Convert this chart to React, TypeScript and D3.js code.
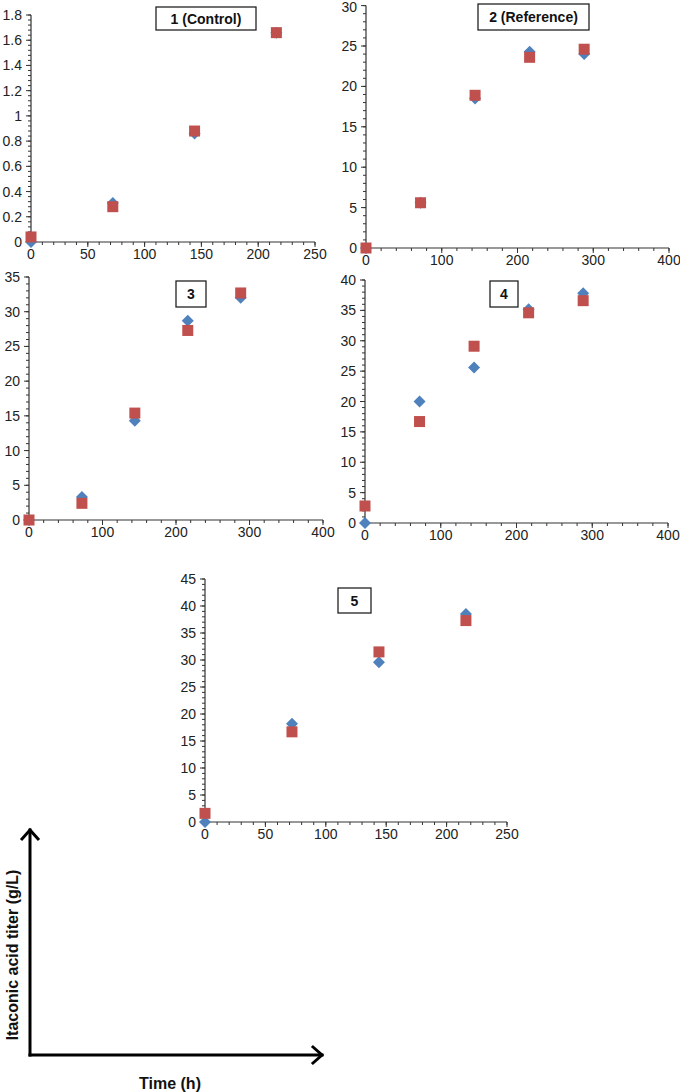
import React from "react";
import * as d3 from "d3";

// ---------- DATA ----------
const timeA = [0, 72, 144, 216];
const timeB = [0, 72, 144, 216, 288];

const p1Blue = [0, 0.31, 0.86, 1.66];
const p1Red = [0.04, 0.28, 0.88, 1.66];

const p2Blue = [0, 5.6, 18.5, 24.3, 24.0];
const p2Red = [0, 5.6, 18.9, 23.6, 24.6];

const p3Blue = [0, 3.3, 14.3, 28.7, 32.0];
const p3Red = [0, 2.4, 15.4, 27.3, 32.7];

const p4Blue = [0, 20.0, 25.6, 35.2, 37.8];
const p4Red = [2.8, 16.7, 29.1, 34.6, 36.6];

const p5Blue = [0, 18.2, 29.6, 38.5];
const p5Red = [1.6, 16.7, 31.5, 37.3];

const panelTitles = ["1 (Control)", "2 (Reference)", "3", "4", "5"];

const xTicks250 = [0, 50, 100, 150, 200, 250];
const xTicks400 = [0, 100, 200, 300, 400];
const yTicks1 = [0, 0.2, 0.4, 0.6, 0.8, 1, 1.2, 1.4, 1.6, 1.8];
const yTicks2 = [0, 5, 10, 15, 20, 25, 30];
const yTicks3 = [0, 5, 10, 15, 20, 25, 30, 35];
const yTicks4 = [0, 5, 10, 15, 20, 25, 30, 35, 40];
const yTicks5 = [0, 5, 10, 15, 20, 25, 30, 35, 40, 45];

const yAxisTitle = "Itaconic acid titer (g/L)";
const xAxisTitle = "Time (h)";

// ---------- LAYOUT / STYLE ----------
const BLUE = "#4F81BD";
const RED = "#C0504D";
const AXIS = "#333";
const FONT = "'Liberation Sans', Arial, Helvetica, sans-serif";

type Panel = {
  time: number[];
  blue: number[];
  red: number[];
  title: string;
  xTicks: number[];
  xMinor: number;
  yTicks: number[];
  yMinor: number;
  x0: number; x1: number; yTop: number; yBot: number;
  box: { x: number; y: number; w: number; h: number };
};

const panels: Panel[] = [
  { time: timeA, blue: p1Blue, red: p1Red, title: panelTitles[0], xTicks: xTicks250, xMinor: 10, yTicks: yTicks1, yMinor: 0.04,
    x0: 31, x1: 315, yTop: 15, yBot: 242, box: { x: 156, y: 7, w: 100, h: 23 } },
  { time: timeB, blue: p2Blue, red: p2Red, title: panelTitles[1], xTicks: xTicks400, xMinor: 20, yTicks: yTicks2, yMinor: 1,
    x0: 366, x1: 669, yTop: 5.6, yBot: 248, box: { x: 478, y: 4, w: 111, h: 26 } },
  { time: timeB, blue: p3Blue, red: p3Red, title: panelTitles[2], xTicks: xTicks400, xMinor: 20, yTicks: yTicks3, yMinor: 1,
    x0: 29, x1: 323, yTop: 277, yBot: 520, box: { x: 176, y: 281, w: 30, h: 26 } },
  { time: timeB, blue: p4Blue, red: p4Red, title: panelTitles[3], xTicks: xTicks400, xMinor: 20, yTicks: yTicks4, yMinor: 1,
    x0: 365, x1: 668, yTop: 280, yBot: 523, box: { x: 490, y: 281, w: 28, h: 26 } },
  { time: timeA, blue: p5Blue, red: p5Red, title: panelTitles[4], xTicks: xTicks250, xMinor: 10, yTicks: yTicks5, yMinor: 1,
    x0: 205, x1: 507, yTop: 579, yBot: 822, box: { x: 338, y: 588, w: 33, h: 25 } },
];

function minorRange(max: number, step: number) {
  const n = Math.round(max / step);
  return d3.range(0, n + 1).map((i) => +(i * step).toFixed(6));
}

function PanelView({ p }: { p: Panel }) {
  const xMax = p.xTicks[p.xTicks.length - 1];
  const yMax = p.yTicks[p.yTicks.length - 1];
  const x = d3.scaleLinear().domain([0, xMax]).range([p.x0, p.x1]);
  const y = d3.scaleLinear().domain([0, yMax]).range([p.yBot, p.yTop]);
  const xm = minorRange(xMax, p.xMinor);
  const ym = minorRange(yMax, p.yMinor);
  const sq = 11;
  const dm = 6;
  const diamond = (cx: number, cy: number) =>
    `M${cx},${cy - dm}L${cx + dm},${cy}L${cx},${cy + dm}L${cx - dm},${cy}Z`;
  return (
    <g>
      {xm.map((v, i) => (
        <line key={"xm" + i} x1={x(v)} x2={x(v)} y1={p.yBot} y2={p.yBot + 3} stroke={AXIS} strokeWidth={1} />
      ))}
      {ym.map((v, i) => (
        <line key={"ym" + i} x1={p.x0 - 3} x2={p.x0} y1={y(v)} y2={y(v)} stroke={AXIS} strokeWidth={1} />
      ))}
      {p.xTicks.map((v, i) => (
        <line key={"xM" + i} x1={x(v)} x2={x(v)} y1={p.yBot} y2={p.yBot + 5} stroke={AXIS} strokeWidth={1} />
      ))}
      {p.yTicks.map((v, i) => (
        <line key={"yM" + i} x1={p.x0 - 5} x2={p.x0} y1={y(v)} y2={y(v)} stroke={AXIS} strokeWidth={1} />
      ))}
      <line x1={p.x0} x2={p.x1} y1={p.yBot} y2={p.yBot} stroke={AXIS} strokeWidth={1.2} />
      <line x1={p.x0} x2={p.x0} y1={p.yTop} y2={p.yBot} stroke={AXIS} strokeWidth={1.2} />
      {p.xTicks.map((v, i) => (
        <text key={"xl" + i} x={x(v)} y={p.yBot + 17} textAnchor="middle" fontSize={14} fontFamily={FONT} fill="#222">
          {String(v)}
        </text>
      ))}
      {p.yTicks.map((v, i) => (
        <text key={"yl" + i} x={p.x0 - 9} y={Math.max(y(v), 7)} dy="0.36em" textAnchor="end" fontSize={14} fontFamily={FONT} fill="#222">
          {String(v)}
        </text>
      ))}
      {p.blue.map((v, i) => (
        <path key={"b" + i} d={diamond(x(p.time[i]), y(v))} fill={BLUE} />
      ))}
      {p.red.map((v, i) => (
        <rect key={"r" + i} x={x(p.time[i]) - sq / 2} y={y(v) - sq / 2} width={sq} height={sq} fill={RED} />
      ))}
      <rect x={p.box.x} y={p.box.y} width={p.box.w} height={p.box.h} fill="#fff" stroke="#222" strokeWidth={1.3} />
      <text x={p.box.x + p.box.w / 2} y={p.box.y + p.box.h / 2} dy="0.36em" textAnchor="middle" fontSize={14}
        fontWeight="bold" fontFamily={FONT} fill="#111">
        {p.title}
      </text>
    </g>
  );
}

export default function App() {
  const ax = 30;
  const ay = 1055;
  const topTip = 829;
  const rightTip = 323;
  return (
    <div style={{ position: "absolute", left: 0, top: 0 }}>
      <svg width={680} height={1092} style={{ display: "block", background: "#fff" }}>
        {panels.map((p, i) => (
          <PanelView key={i} p={p} />
        ))}
        <g stroke="#000" strokeWidth={3} fill="none" strokeLinecap="square">
          <line x1={ax} y1={ay} x2={ax} y2={topTip + 1} />
          <line x1={ax} y1={ay} x2={rightTip - 1} y2={ay} />
          <polyline points={`${ax - 8},${topTip + 10} ${ax},${topTip + 1} ${ax + 8},${topTip + 10}`} strokeLinejoin="miter" />
          <polyline points={`${rightTip - 10},${ay - 8} ${rightTip - 1},${ay} ${rightTip - 10},${ay + 8}`} strokeLinejoin="miter" />
        </g>
        <text transform={`translate(12,955) rotate(-90)`} textAnchor="middle" dy="0.36em" fontSize={16} fontWeight="bold"
          fontFamily={FONT} fill="#111">
          {yAxisTitle}
        </text>
        <text x={170} y={1083} dy="0.36em" textAnchor="middle" fontSize={16} fontWeight="bold" fontFamily={FONT} fill="#111">
          {xAxisTitle}
        </text>
      </svg>
    </div>
  );
}
